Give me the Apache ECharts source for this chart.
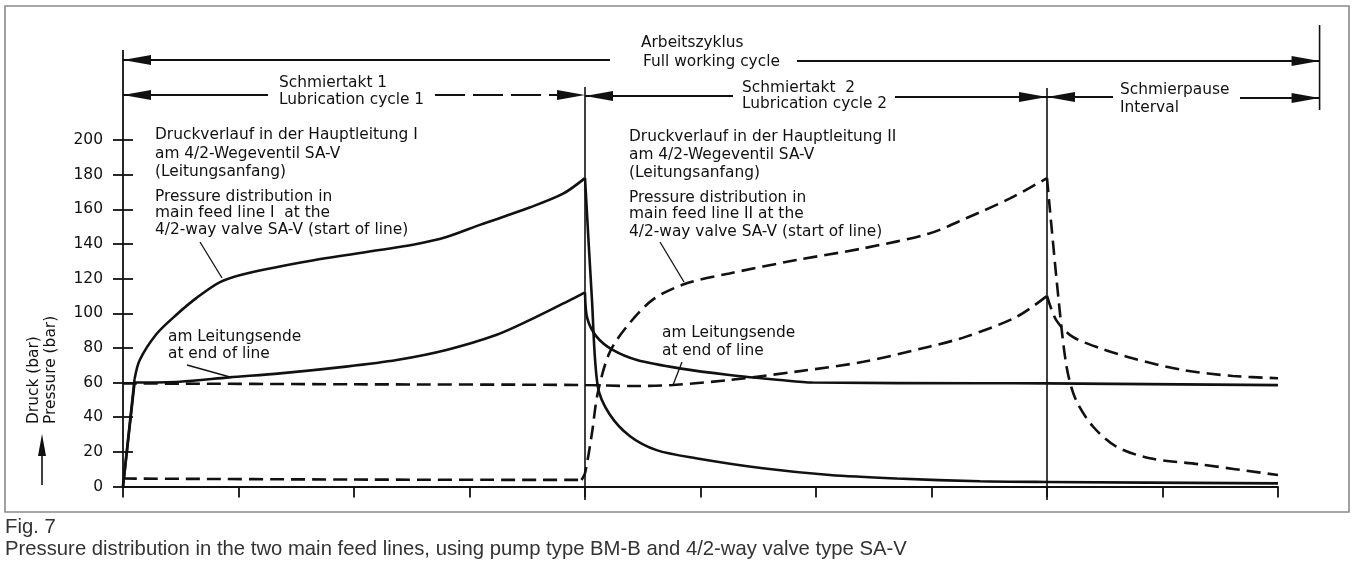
<!DOCTYPE html>
<html lang="de">
<head>
<meta charset="UTF-8">
<title>Fig. 7</title>
<script src="https://cdn.jsdelivr.net/npm/echarts@6/dist/echarts.min.js"></script>
<style>
  html, body { margin: 0; padding: 0; background: #fff; }
  #chart { width: 1355px; height: 574px; }
</style>
</head>
<body>
<div id="chart"></div>
<script>
// Zeitachse: Schmiertakt 1 = 0..4, Schmiertakt 2 = 4..8, Schmierpause = 8..10
var xTicks = [0, 1, 2, 3, 4, 5, 6, 7, 8, 9, 10];
var yTicks = [0, 20, 40, 60, 80, 100, 120, 140, 160, 180, 200];
var cycleBounds = [0, 4, 8, 10.36];

// Hauptleitung I, Leitungsanfang (durchgezogen)
var lineIStart = [[0, 0], [0.1, 62], [0.145, 73], [0.29, 88], [0.46, 99], [0.64, 109], [0.84, 118],
  [1.07, 123], [1.64, 130.5], [2.22, 136.5], [2.51, 139.5], [2.8, 144], [3.09, 151], [3.52, 161],
  [3.81, 169], [4.0, 178], [4.06, 108], [4.11, 58], [4.21, 42], [4.39, 29], [4.62, 21], [4.96, 16.3],
  [5.54, 10.5], [6.12, 6.6], [6.7, 4.6], [7.42, 3], [8, 2.6], [10, 1.8]];
// Hauptleitung I, Leitungsende (durchgezogen)
var lineIEnd = [[0, 0], [0.1, 60], [0.49, 60.5], [0.92, 63], [1.36, 65.3], [1.93, 69.2], [2.37, 73],
  [2.8, 78.8], [3.23, 87.4], [3.52, 96], [3.87, 107.6], [4.0, 112], [4.02, 97], [4.1, 86.5],
  [4.24, 78.8], [4.45, 73], [4.82, 68.2], [5.25, 64.4], [5.69, 61.5], [5.97, 60], [7.42, 59.6],
  [8, 59.5], [10, 58.5]];
// Hauptleitung II, Leitungsanfang (gestrichelt)
var lineIIStart = [[0, 4.6], [2, 4], [3.97, 3.8], [4.0, 7.6], [4.06, 30.7], [4.11, 53.8], [4.21, 76.9],
  [4.36, 92.2], [4.59, 108], [4.88, 117.3], [5.25, 123], [5.83, 130.7], [6.41, 137.5], [6.98, 146],
  [7.3, 154.8], [7.68, 166.3], [8, 178], [8.1, 108], [8.17, 69], [8.25, 50], [8.4, 34.5], [8.6, 23],
  [8.89, 16.3], [9.32, 12.8], [10, 6.6]];
// Hauptleitung II, Leitungsende (gestrichelt)
var lineIIEnd = [[0, 59.5], [2, 59], [4, 58.6], [4.39, 58], [4.76, 58.6], [5.25, 61.5], [5.83, 66.3],
  [6.41, 72], [6.98, 80.7], [7.3, 86.5], [7.74, 98], [8, 110], [8.08, 96], [8.22, 86.5], [8.46, 79.8],
  [8.74, 74], [9.18, 67.2], [9.61, 63.8], [10, 62.5]];

// Knickpunkte (Index in den Reihen), an denen die Glättung unterbrochen wird
var kinksIStart = [1, 15];
var kinksIEnd = [1, 11];
var kinksIIStart = [2, 16];
var kinksIIEnd = [11];

var INK = '#111';
var FONT = '15.4px "DejaVu Sans"';

var chart = echarts.init(document.getElementById('chart'));

// eine Kurve in geglättete Stücke zwischen den Knickpunkten zerlegen
function curve(name, data, kinks, dashed) {
  var cuts = [0].concat(kinks, [data.length - 1]);
  var out = [];
  for (var i = 0; i < cuts.length - 1; i++) {
    out.push({
      name: name,
      type: 'line',
      data: data.slice(cuts[i], cuts[i + 1] + 1),
      symbol: 'none',
      smooth: 0.3,
      clip: false,
      lineStyle: { color: INK, width: 2.6, type: dashed ? [14, 7] : 'solid' }
    });
  }
  return out;
}

var yBase = {
  type: 'value', min: 0, max: 200, interval: 20,
  splitLine: { show: false }
};

var option = {
  animation: false,
  backgroundColor: '#fff',
  grid: { left: 123, right: 77, top: 140, bottom: 87.5, outerBoundsMode: 'none' },
  xAxis: {
    type: 'value', min: 0, max: 10, interval: 1,
    axisLine: { lineStyle: { color: INK, width: 1.8 } },
    axisTick: { length: 11, lineStyle: { color: INK, width: 1.8 } },
    axisLabel: { show: false },
    splitLine: { show: false }
  },
  yAxis: [
    Object.assign({}, yBase, {
      axisLine: { show: true, lineStyle: { color: INK, width: 1.8 } },
      axisTick: { show: true, length: 10, lineStyle: { color: INK, width: 1.8 } },
      axisLabel: { color: INK, fontFamily: 'DejaVu Sans', fontSize: 15.5, margin: 20 }
    }),
    Object.assign({}, yBase, {
      position: 'left',
      axisLine: { show: false },
      axisTick: { show: true, inside: true, length: 10, lineStyle: { color: INK, width: 1.8 } },
      axisLabel: { show: false }
    })
  ],
  series: [].concat(
    curve('Leitung I Anfang', lineIStart, kinksIStart, false),
    curve('Leitung I Ende', lineIEnd, kinksIEnd, false),
    curve('Leitung II Anfang', lineIIStart, kinksIIStart, true),
    curve('Leitung II Ende', lineIIEnd, kinksIIEnd, true)
  )
};
chart.setOption(option);

// ---- Beschriftung, Maßpfeile, Rahmen ----
function px(x, y) { return chart.convertToPixel({ gridIndex: 0 }, [x, y]); }
var g = [];
function seg(x1, y1, x2, y2, w, dash) {
  g.push({ type: 'line', shape: { x1: x1, y1: y1, x2: x2, y2: y2 },
    style: { stroke: INK, lineWidth: w || 1.8, lineDash: dash || null } });
}
function head(x, y, dir) {
  g.push({ type: 'polygon', shape: { points: [[x, y], [x - dir * 28, y - 5], [x - dir * 28, y + 5]] }, style: { fill: INK } });
}
function txt(s, x, y, font, color) {
  g.push({ type: 'text', x: x, y: y, style: { text: s, font: font || FONT, fill: color || INK, verticalAlign: 'middle' } });
}

var xA = px(cycleBounds[0], 0)[0];
var xB = px(cycleBounds[1], 0)[0];
var xC = px(cycleBounds[2], 0)[0];
var xE = px(cycleBounds[3], 0)[0];
var yTop = px(0, 200)[1];

// Rahmen
g.push({ type: 'rect', shape: { x: 5, y: 6, width: 1344, height: 506 }, style: { fill: null, stroke: '#8a8a8a', lineWidth: 1.6 } });

// senkrechte Begrenzungen
seg(xA, yTop, xA, 50);
seg(xB, 87, xB, 500, 1.6);
seg(xC, 88, xC, 500, 1.6);
seg(xE, 25, xE, 110, 1.6);

// Arbeitszyklus
seg(xA, 60, 610, 60); head(xA, 60, -1);
seg(797, 61, xE, 61); head(xE, 61, 1);
txt('Arbeitszyklus', 641, 43);
txt('Full working cycle', 643, 62);

// Schmiertakt 1
seg(xA, 95, 268, 95); head(xA, 95, -1);
seg(435, 95, xB, 95, 1.8, [30, 8]); head(xB, 95, 1);
txt('Schmiertakt 1', 279, 83);
txt('Lubrication cycle 1', 279, 100);

// Schmiertakt 2
seg(xB, 96, 733, 96); head(xB, 96, -1);
seg(895, 97, xC, 97); head(xC, 97, 1);
txt('Schmiertakt  2', 742, 88);
txt('Lubrication cycle 2', 742, 104);

// Schmierpause
seg(xC, 97, 1113, 97); head(xC, 97, -1);
seg(1240, 98, xE, 98); head(xE, 98, 1);
txt('Schmierpause', 1120, 90);
txt('Interval', 1120, 108);

// Kurvenbeschriftung Leitung I
txt('Druckverlauf in der Hauptleitung I', 155, 135);
txt('am 4/2-Wegeventil SA-V', 155, 154);
txt('(Leitungsanfang)', 155, 172);
txt('Pressure distribution in', 155, 197);
txt('main feed line I  at the', 155, 213);
txt('4/2-way valve SA-V (start of line)', 155, 230);
seg(200, 242, 222, 278, 1.3);
txt('am Leitungsende', 168, 337);
txt('at end of line', 168, 354);
seg(187, 365, 230, 377, 1.3);

// Kurvenbeschriftung Leitung II
txt('Druckverlauf in der Hauptleitung II', 629, 137);
txt('am 4/2-Wegeventil SA-V', 629, 155);
txt('(Leitungsanfang)', 629, 173);
txt('Pressure distribution in', 629, 198);
txt('main feed line II at the', 629, 214);
txt('4/2-way valve SA-V (start of line)', 629, 232);
seg(660, 242, 684, 282, 1.3);
txt('am Leitungsende', 662, 333);
txt('at end of line', 662, 351);
seg(682, 362, 673, 385, 1.3);

// Achsentitel
g.push({ type: 'text', x: 34, y: 424, rotation: Math.PI / 2, style: { text: 'Druck (bar)', font: FONT, fill: INK, verticalAlign: 'middle' } });
g.push({ type: 'text', x: 51, y: 424, rotation: Math.PI / 2, style: { text: 'Pressure (bar)', font: FONT, fill: INK, verticalAlign: 'middle' } });
seg(42, 485, 42, 452, 1.6);
g.push({ type: 'polygon', shape: { points: [[42, 434], [38, 456], [46, 456]] }, style: { fill: INK } });

// Bildunterschrift
txt('Fig. 7', 5, 527, '20.3px "Liberation Sans"', '#333');
txt('Pressure distribution in the two main feed lines, using pump type BM-B and 4/2-way valve type SA-V', 5, 549, '20.3px "Liberation Sans"', '#333');

chart.setOption({ graphic: g });
</script>
</body>
</html>
